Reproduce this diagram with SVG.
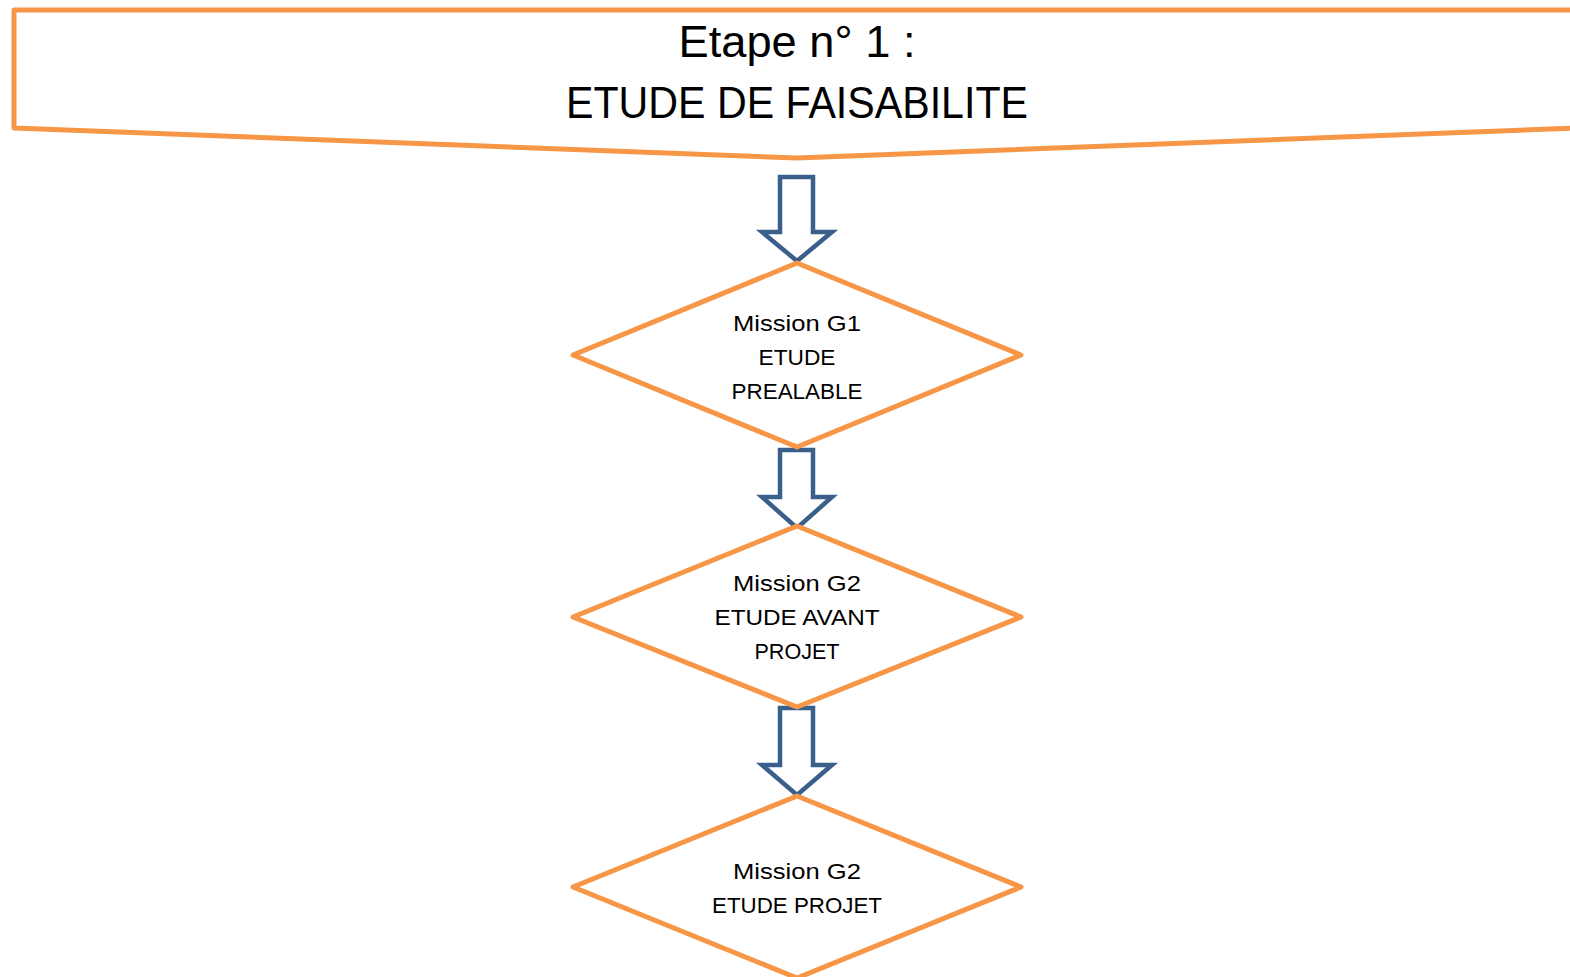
<svg xmlns="http://www.w3.org/2000/svg" width="1570" height="977" viewBox="0 0 1570 977">
<style>
.o{fill:#fff;stroke:#F79646;stroke-width:5;stroke-linejoin:round}
.a{fill:#fff;stroke:#3A5F8B;stroke-width:4.5;stroke-linejoin:miter}
.t{font-family:"Liberation Sans",Arial,sans-serif;fill:#000;text-anchor:middle}
.s{font-size:22px}
.b{font-size:44px}
</style>
<rect width="1570" height="977" fill="#fff"/>
<g id="banner">
<polygon class="o" points="14,10 1575,10 1575,128 797,158 14,128"/>
<text class="t b" x="797" y="57" textLength="237" lengthAdjust="spacingAndGlyphs">Etape n° 1 :</text>
<text class="t b" x="797" y="118" textLength="462" lengthAdjust="spacingAndGlyphs">ETUDE DE FAISABILITE</text>
</g>
<g id="connectors">
<polygon class="a" points="780,177 813,177 813,232 832,232 797,261 762,232 780,232"/>
<polygon class="a" points="780,450 813,450 813,497 832,497 797,528 762,497 780,497"/>
<polygon class="a" points="780,708 813,708 813,765 832,765 797,795 762,765 780,765"/>
</g>
<g id="g1">
<polygon class="o" points="797,263 1021,355 797,447 573,355"/>
<text class="t s" x="797" y="331" textLength="128" lengthAdjust="spacingAndGlyphs">Mission G1</text>
<text class="t s" x="797" y="365" textLength="77" lengthAdjust="spacingAndGlyphs">ETUDE</text>
<text class="t s" x="797" y="399" textLength="131" lengthAdjust="spacingAndGlyphs">PREALABLE</text>
</g>
<g id="g2">
<polygon class="o" points="797,526 1021,617 797,707 573,617"/>
<text class="t s" x="797" y="591" textLength="128" lengthAdjust="spacingAndGlyphs">Mission G2</text>
<text class="t s" x="797" y="625" textLength="165" lengthAdjust="spacingAndGlyphs">ETUDE AVANT</text>
<text class="t s" x="797" y="659" textLength="85" lengthAdjust="spacingAndGlyphs">PROJET</text>
</g>
<g id="g3">
<polygon class="o" points="797,796 1021,887 797,978 573,887"/>
<text class="t s" x="797" y="879" textLength="128" lengthAdjust="spacingAndGlyphs">Mission G2</text>
<text class="t s" x="797" y="913" textLength="170" lengthAdjust="spacingAndGlyphs">ETUDE PROJET</text>
</g>
</svg>
